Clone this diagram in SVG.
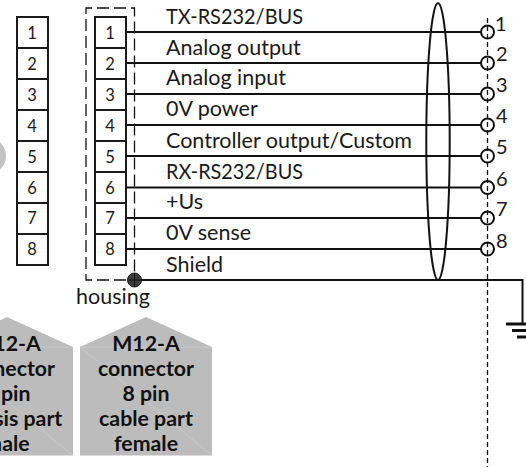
<svg xmlns="http://www.w3.org/2000/svg" width="526" height="467" viewBox="0 0 526 467">
<style>
text{font-family:"Lato","Open Sans","Liberation Sans",sans-serif;fill:#1a1a1a}
.n{font-size:16.500px;text-anchor:middle}
.l{font-size:21.500px}
.p{font-size:20px}
.h{font-size:21.300px;font-weight:bold;text-anchor:middle;fill:#111}
.cell{fill:#fff;stroke:#1a1a1a;stroke-width:2}
.w{stroke:#111;stroke-width:2;fill:none}
.d{stroke:#111;stroke-width:1.300;fill:none;stroke-dasharray:12 5}
.v{stroke:#111;stroke-width:1.300;fill:none;stroke-dasharray:5 3}
.pin{fill:none;stroke:#111;stroke-width:2}
.house{fill:#bcbcbc}
.f{stroke:#cfcfcf;stroke-width:.7;fill:none}
</style>
<circle id="badge" cx="-12" cy="156" r="18" fill="#c4c4c4"/>
<g id="connector-left">
<rect class="cell" x="17" y="17" width="31" height="31"/><text class="n" x="32" y="39">1</text>
<rect class="cell" x="17" y="48" width="31" height="31"/><text class="n" x="32" y="70">2</text>
<rect class="cell" x="17" y="79" width="31" height="31"/><text class="n" x="32" y="101">3</text>
<rect class="cell" x="17" y="110" width="31" height="31"/><text class="n" x="32" y="132">4</text>
<rect class="cell" x="17" y="141" width="31" height="31"/><text class="n" x="32" y="163">5</text>
<rect class="cell" x="17" y="172" width="31" height="31"/><text class="n" x="32" y="194">6</text>
<rect class="cell" x="17" y="203" width="31" height="31"/><text class="n" x="32" y="224">7</text>
<rect class="cell" x="17" y="234" width="31" height="31"/><text class="n" x="32" y="255">8</text>
</g>
<g id="connector-right">
<rect class="cell" x="95" y="17" width="31" height="31"/><text class="n" x="110" y="39">1</text>
<rect class="cell" x="95" y="48" width="31" height="31"/><text class="n" x="110" y="70">2</text>
<rect class="cell" x="95" y="79" width="31" height="31"/><text class="n" x="110" y="101">3</text>
<rect class="cell" x="95" y="110" width="31" height="31"/><text class="n" x="110" y="132">4</text>
<rect class="cell" x="95" y="141" width="31" height="31"/><text class="n" x="110" y="163">5</text>
<rect class="cell" x="95" y="172" width="31" height="31"/><text class="n" x="110" y="194">6</text>
<rect class="cell" x="95" y="203" width="31" height="31"/><text class="n" x="110" y="224">7</text>
<rect class="cell" x="95" y="234" width="31" height="31"/><text class="n" x="110" y="255">8</text>
</g>
<g id="connectors">
<path class="d" d="M126 280H86V8H134.500V280"/>
<path class="v" d="M487.500 18V467"/>
<path class="w" d="M126 32H481M126 63H481M126 94H481M126 125H481M126 156H481M126 187.500H481M126 218H481M126 249H481"/>
<path class="w" d="M134 280H522.500V323"/>
<ellipse class="w" cx="438" cy="141.500" rx="11.700" ry="138.500"/>
<path d="M506 324H526M512 330.500H526M517 337H526" stroke="#111" stroke-width="3" fill="none"/>
</g>
<g id="pins">
<circle class="pin" cx="487.500" cy="32" r="6.500"/><text class="p" x="495" y="31">1</text>
<circle class="pin" cx="487.500" cy="63" r="6.500"/><text class="p" x="496" y="61">2</text>
<circle class="pin" cx="487.500" cy="94" r="6.500"/><text class="p" x="496" y="92">3</text>
<circle class="pin" cx="487.500" cy="125" r="6.500"/><text class="p" x="496" y="123">4</text>
<circle class="pin" cx="487.500" cy="156" r="6.500"/><text class="p" x="496" y="154">5</text>
<circle class="pin" cx="487.500" cy="187.500" r="6.500"/><text class="p" x="496" y="186">6</text>
<circle class="pin" cx="487.500" cy="218" r="6.500"/><text class="p" x="496" y="216">7</text>
<circle class="pin" cx="487.500" cy="249" r="6.500"/><text class="p" x="496" y="248">8</text>
</g>
<g id="housing-node">
<circle cx="134.500" cy="280" r="7" fill="#3c3c3c" stroke="#222" stroke-width="1"/>
<path d="M127.500 280H141.500M134.500 273V287" stroke="#111" stroke-width="1"/>
<text x="76" y="304" font-size="21.500">housing</text>
</g>
<g id="labels">
<text class="l" x="166" y="24" textLength="137" lengthAdjust="spacingAndGlyphs">TX-RS232/BUS</text>
<text class="l" x="166" y="55">Analog output</text>
<text class="l" x="166" y="85">Analog input</text>
<text class="l" x="166" y="116">0V power</text>
<text class="l" x="166" y="148">Controller output/Custom</text>
<text class="l" x="166" y="179" textLength="137" lengthAdjust="spacingAndGlyphs">RX-RS232/BUS</text>
<text class="l" x="166" y="209">+Us</text>
<text class="l" x="166" y="240">0V sense</text>
<text class="l" x="166" y="272">Shield</text>
</g>
<g id="house-left">
<path class="house" d="M-59 347L7 317L73 347V455.500H-59Z"/>
<path class="f" d="M-59 347H73M-59 347L73 455.500"/>
<text class="h" x="7" y="351">M12-A</text>
<text class="h" x="7" y="376">connector</text>
<text class="h" x="7" y="401">8 pin</text>
<text class="h" x="7" y="426">chassis part</text>
<text class="h" x="7" y="451">male</text>
</g>
<g id="house-right">
<path class="house" d="M80 347L146 317L212 347V455.500H80Z"/>
<path class="f" d="M80 347H212M80 347L212 455.500"/>
<text class="h" x="146" y="351">M12-A</text>
<text class="h" x="146" y="376">connector</text>
<text class="h" x="146" y="401">8 pin</text>
<text class="h" x="146" y="426">cable part</text>
<text class="h" x="146" y="451">female</text>
</g>
</svg>
